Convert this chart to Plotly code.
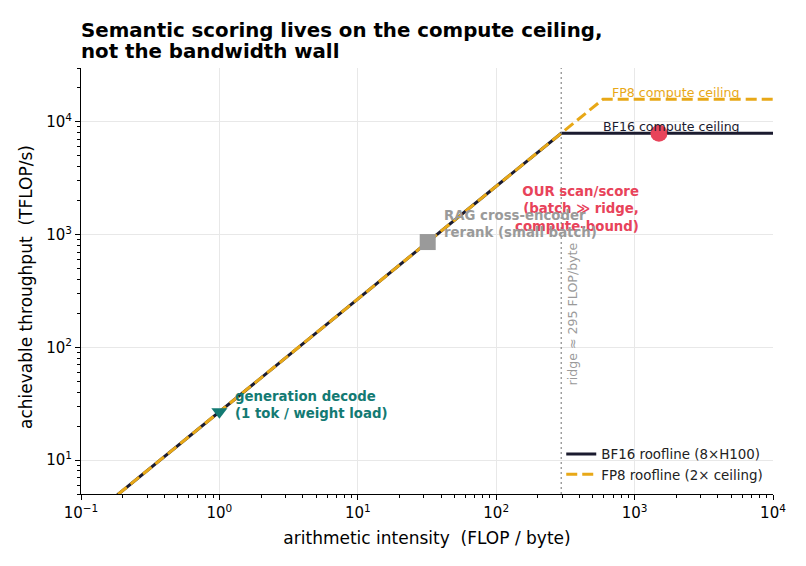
import math
import plotly.graph_objects as go

# ---- data ----
bf16_x = [0.1, 295, 10000]
bf16_y = [2.68, 7912, 7912]
fp8_x = [0.1, 590, 10000]
fp8_y = [2.68, 15824, 15824]
ridge_x = 295

work_names = ["generation decode", "RAG cross-encoder", "OUR scan/score"]
work_x = [1.0, 32.0, 1500.0]
work_y = [26.8, 858.0, 7912.0]

x_tickvals = [0.1, 1, 10, 100, 1000, 10000]
x_ticktext = ["10<sup>−1</sup>", "10<sup>0</sup>", "10<sup>1</sup>", "10<sup>2</sup>", "10<sup>3</sup>", "10<sup>4</sup>"]
y_tickvals = [10, 100, 1000, 10000]
y_ticktext = ["10<sup>1</sup>", "10<sup>2</sup>", "10<sup>3</sup>", "10<sup>4</sup>"]

title_lines = ["Semantic scoring lives on the compute ceiling,", "not the bandwidth wall"]

NAVY = "#1b1b2f"
ORANGE = "#e8a817"
TEAL = "#137a73"
RED = "#e8435a"
GRAY = "#9a9a9a"
FONT = "DejaVu Sans"

minor_vals = [m * 10 ** e for e in range(-1, 5) for m in range(2, 10)]

fig = go.Figure()
fig.add_trace(go.Scatter(x=bf16_x, y=bf16_y, mode="lines", name="BF16 roofline (8×H100)",
                         line=dict(color=NAVY, width=3)))
fig.add_trace(go.Scatter(x=fp8_x, y=fp8_y, mode="lines", name="FP8 roofline (2× ceiling)",
                         line=dict(color=ORANGE, width=3, dash="11px,5px")))

symbols = ["triangle-down", "square", "circle"]
colors = [TEAL, GRAY, RED]
sizes = [14, 16, 17]
for i in range(3):
    fig.add_trace(go.Scatter(x=[work_x[i]], y=[work_y[i]], mode="markers", showlegend=False,
                             marker=dict(symbol=symbols[i], color=colors[i], size=sizes[i],
                                         line=dict(width=0))))

# ridge line
fig.add_shape(type="line", xref="x", yref="paper", x0=ridge_x, x1=ridge_x, y0=0, y1=1,
              line=dict(color="#888888", width=1.2, dash="2px,3px"))

AF = 13.3
NF = 12.6
ann = [
    dict(x=math.log10(6000), y=4.262, text="FP8 compute ceiling", xanchor="right",
         font=dict(color=ORANGE, size=NF, family=FONT)),
    dict(x=math.log10(6000), y=3.962, text="BF16 compute ceiling", xanchor="right",
         font=dict(color=NAVY, size=NF, family=FONT)),
    dict(x=3.046, y=3.225, text="<b>OUR scan/score<br>(batch ≫ ridge,<br>compute-bound)</b>",
         xanchor="right", align="right", font=dict(color=RED, size=AF, family=FONT)),
    dict(x=1.605, y=3.095, text="<b>RAG cross-encoder<br>rerank (small batch)</b>",
         xanchor="left", align="left", font=dict(color=GRAY, size=AF, family=FONT)),
    dict(x=0.10, y=1.491, text="<b>generation decode<br>(1 tok / weight load)</b>",
         xanchor="left", align="left", font=dict(color=TEAL, size=AF, family=FONT)),
    dict(x=2.548, y=2.292, text="ridge ≈ 295 FLOP/byte", textangle=-90,
         font=dict(color=GRAY, size=NF, family=FONT)),
]
for a in ann:
    a.update(xref="x", yref="y", showarrow=False)
    fig.add_annotation(**a)

# title lines as paper annotations
for i, (line, py) in enumerate(zip(title_lines, [30, 52])):
    fig.add_annotation(xref="paper", yref="paper", x=-0.003, y=(494 - py) / 426, xanchor="left",
                       yanchor="middle", showarrow=False, align="left",
                       text="<b>" + line + "</b>",
                       font=dict(size=19.8, family=FONT, color="black"))

# y-axis title as annotation for exact placement
fig.add_annotation(xref="paper", yref="paper", x=(26 - 81) / 692, y=(494 - 287) / 426,
                   xanchor="center", yanchor="middle", showarrow=False, textangle=-90,
                   text="achievable throughput\u00a0 (TFLOP/s)",
                   font=dict(size=17, family=FONT, color="black"))

axis_common = dict(
    type="log", showline=True, linecolor="black", linewidth=1, mirror=False,
    ticks="outside", ticklen=5, tickcolor="black", tickwidth=1,
    showgrid=True, gridcolor="#e8e8e8", gridwidth=1, zeroline=False,
    tickfont=dict(size=15, family=FONT, color="black"),
    minor=dict(tickmode="array", tickvals=minor_vals, ticks="outside", ticklen=3,
               tickcolor="black", showgrid=False),
)

fig.update_layout(
    width=806, height=566,
    margin=dict(l=81, r=33, t=68, b=72),
    paper_bgcolor="white", plot_bgcolor="white",
    font=dict(family=FONT, color="black"),
    xaxis=dict(axis_common, range=[-1, 4], tickvals=x_tickvals, ticktext=x_ticktext,
               title=dict(text="arithmetic intensity\u00a0 (FLOP / byte)", font=dict(size=17, family=FONT), standoff=11)),
    yaxis=dict(axis_common, range=[math.log10(5), math.log10(3e4)], tickvals=y_tickvals, ticktext=y_ticktext),
    legend=dict(x=0.694, y=0.01, xanchor="left", yanchor="bottom", bgcolor="rgba(0,0,0,0)",
                font=dict(size=13.4, family=FONT, color="#222222"), tracegroupgap=0),
    showlegend=True,
)

fig.write_html("out.html")
